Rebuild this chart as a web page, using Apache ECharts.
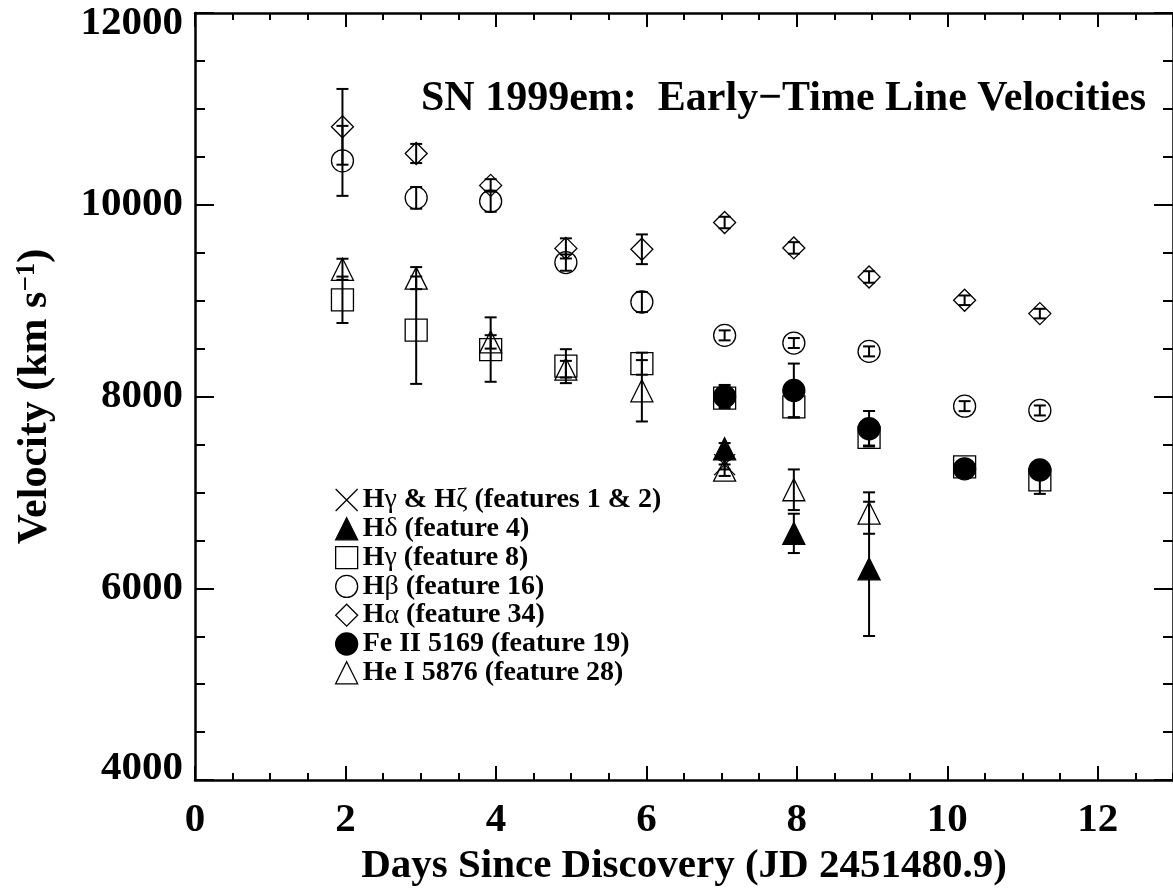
<!DOCTYPE html>
<html>
<head>
<meta charset="utf-8">
<script src="https://cdn.jsdelivr.net/npm/echarts@6/dist/echarts.min.js"></script>
<style>
  html, body { margin: 0; padding: 0; background: #fff; }
  #chart { width: 1173px; height: 892px; }
</style>
</head>
<body>
<div id="chart"></div>
<script>
// ---------------- DATA ----------------
const titleText = 'SN 1999em:  Early\u2212Time Line Velocities';
const xAxisTitle = 'Days Since Discovery (JD 2451480.9)';
const yAxisTitle = 'Velocity (km s{sup|\u22121})';

const xTickLabels = [0, 2, 4, 6, 8, 10, 12];
const yTickLabels = [4000, 6000, 8000, 10000, 12000];

const seriesNames = [
  'H\u03b3 & H\u03b6 (features 1 & 2)',
  'H\u03b4 (feature 4)',
  'H\u03b3 (feature 8)',
  'H\u03b2 (feature 16)',
  'H\u03b1 (feature 34)',
  'Fe II 5169 (feature 19)',
  'He I 5876 (feature 28)'
];

const epochs = [1.96, 2.94, 3.93, 4.93, 5.94, 7.04, 7.96, 8.96, 10.23, 11.23];

const hgzDays = [7.04];
const hgzVel  = [7290];
const hgzErr  = [50];

const hdDays = [7.04, 7.96, 8.96];
const hdVel  = [7455, 6573, 6203];
const hdErr  = [60, 205, 700];

const hg8Days = epochs;
const hg8Vel  = [9009, 8692, 8490, 8317, 8343, 7983, 7892, 7574, 7267, 7130];
const hg8Err  = [242, 560, 336, 177, 115, 80, 110, 85, 40, 145];

const hbDays = epochs;
const hbVel  = [10458, 10072, 10037, 9397, 8986, 8638, 8558, 8471, 7900, 7855];
const hbErr  = [365, 113, 110, 85, 105, 52, 52, 52, 52, 52];

const haDays = epochs;
const haVel  = [10813, 10535, 10202, 9545, 9536, 9815, 9550, 9247, 9004, 8865];
const haErr  = [395, 100, 65, 105, 155, 60, 60, 60, 50, 50];

const feDays = [7.04, 7.96, 8.96, 10.23, 11.23];
const feVel  = [8001, 8064, 7664, 7246, 7235];
const feErr  = [120, 280, 185, 40, 60];

const heDays = [1.96, 2.94, 3.93, 4.93, 5.94, 7.04, 7.96, 8.96];
const heVel  = [9327, 9235, 8570, 8285, 8060, 7232, 7028, 6785];
const heErr  = [110, 115, 70, 87, 320, 60, 212, 216];

// ---------------- BUILD ----------------
const FONT = '"Liberation Serif", "Times New Roman", Times, serif';
const X_MIN = 0, X_MAX = 13, Y_MIN = 4000, Y_MAX = 12000;

function pts(d, v) { return d.map((x, i) => [x, v[i]]); }
function errPts(d, v, e) { return d.map((x, i) => [x, v[i], e[i]]); }

const groups = [
  { name: seriesNames[0], d: hgzDays, v: hgzVel, e: hgzErr, symbol: 'path://M0,0L20,20M20,0L0,20', fill: 'rgba(0,0,0,0)', size: 21 },
  { name: seriesNames[1], d: hdDays, v: hdVel, e: hdErr, symbol: 'triangle', fill: '#000', size: 22 },
  { name: seriesNames[2], d: hg8Days, v: hg8Vel, e: hg8Err, symbol: 'rect', fill: 'rgba(0,0,0,0)', size: 22 },
  { name: seriesNames[3], d: hbDays, v: hbVel, e: hbErr, symbol: 'circle', fill: 'rgba(0,0,0,0)', size: 22 },
  { name: seriesNames[4], d: haDays, v: haVel, e: haErr, symbol: 'diamond', fill: 'rgba(0,0,0,0)', size: 22 },
  { name: seriesNames[5], d: feDays, v: feVel, e: feErr, symbol: 'circle', fill: '#000', size: 22 },
  { name: seriesNames[6], d: heDays, v: heVel, e: heErr, symbol: 'triangle', fill: 'rgba(0,0,0,0)', size: 22 }
];

const scatterSeries = groups.map(g => ({
  type: 'scatter',
  name: g.name,
  xAxisIndex: 0, yAxisIndex: 0,
  symbol: g.symbol,
  symbolSize: g.size,
  data: pts(g.d, g.v),
  itemStyle: { color: g.fill, borderColor: '#000', borderWidth: 1.3, opacity: 1 },
  emphasis: { disabled: true },
  z: 3
}));

let allErr = [];
groups.forEach(g => { allErr = allErr.concat(errPts(g.d, g.v, g.e)); });

const errSeries = {
  type: 'custom',
  name: 'errors',
  xAxisIndex: 0, yAxisIndex: 0,
  silent: true,
  z: 4,
  encode: { x: 0, y: 1 },
  data: allErr,
  renderItem: function (params, api) {
    const x = api.value(0), y = api.value(1), e = api.value(2);
    const t = api.coord([x, y + e]);
    const b = api.coord([x, y - e]);
    const hw = 6;
    const st = { stroke: '#000', lineWidth: 2 };
    return {
      type: 'group',
      children: [
        { type: 'line', shape: { x1: t[0], y1: t[1], x2: b[0], y2: b[1] }, style: st },
        { type: 'line', shape: { x1: t[0] - hw, y1: t[1], x2: t[0] + hw, y2: t[1] }, style: st },
        { type: 'line', shape: { x1: b[0] - hw, y1: b[1], x2: b[0] + hw, y2: b[1] }, style: st }
      ]
    };
  }
};

const labelStyle = { fontFamily: FONT, fontSize: 41, fontWeight: 'bold', color: '#000' };
const lineSt = { color: '#000', width: 2.5 };
const tickSt = { color: '#000', width: 2 };

function xAx(position, interval, tickLen, showLabel, showLine, extra) {
  return Object.assign({
    type: 'value', position: position, min: X_MIN, max: X_MAX, interval: interval,
    axisLine: { show: showLine, onZero: false, lineStyle: lineSt },
    axisTick: { show: true, inside: true, length: tickLen, lineStyle: tickSt },
    axisLabel: { show: showLabel },
    splitLine: { show: false }
  }, extra || {});
}
function yAx(position, interval, tickLen, showLabel, showLine, extra) {
  return Object.assign({
    type: 'value', position: position, min: Y_MIN, max: Y_MAX, interval: interval,
    axisLine: { show: showLine, onZero: false, lineStyle: lineSt },
    axisTick: { show: true, inside: true, length: tickLen, lineStyle: tickSt },
    axisLabel: { show: showLabel },
    splitLine: { show: false }
  }, extra || {});
}

const xAxes = [
  xAx('bottom', 2, 14, true, true, {
    name: xAxisTitle, nameLocation: 'middle', nameGap: 64,
    nameTextStyle: { fontFamily: FONT, fontSize: 41, fontWeight: 'bold', color: '#000' },
    axisLabel: Object.assign({ show: true, margin: 20, showMaxLabel: false,
      formatter: v => (xTickLabels.indexOf(v) >= 0 ? String(v) : '') }, labelStyle)
  }),
  xAx('bottom', 0.5, 7, false, false),
  xAx('top', 2, 14, false, true),
  xAx('top', 0.5, 7, false, false)
];

const yAxes = [
  yAx('left', 2000, 19, true, true, {
    name: yAxisTitle, nameLocation: 'middle', nameGap: 138,
    nameTextStyle: { fontFamily: FONT, fontSize: 42, fontWeight: 'bold', color: '#000',
      rich: { sup: { fontFamily: FONT, fontSize: 27, fontWeight: 'bold', color: '#000', verticalAlign: 'top', padding: [0, 0, 16, 0] } } },
    axisLabel: Object.assign({ show: true, margin: 12,
      formatter: v => {
        if (yTickLabels.indexOf(v) < 0) return '';
        if (v === Y_MAX) return '{t|' + v + '}';
        if (v === Y_MIN) return '{b|' + v + '}';
        return String(v);
      },
      rich: {
        t: { fontFamily: FONT, fontSize: 41, fontWeight: 'bold', color: '#000', padding: [20, 0, 0, 0] },
        b: { fontFamily: FONT, fontSize: 41, fontWeight: 'bold', color: '#000', padding: [0, 0, 24, 0] }
      } }, labelStyle)
  }),
  yAx('left', 500, 10, false, false),
  yAx('right', 2000, 19, false, true),
  yAx('right', 500, 10, false, false)
];

const chart = echarts.init(document.getElementById('chart'), null, { renderer: 'canvas' });
chart.setOption({
  backgroundColor: '#ffffff',
  animation: false,
  title: {
    text: titleText, left: 421, top: 78, padding: 0,
    textStyle: { fontFamily: FONT, fontSize: 42, fontWeight: 'bold', color: '#000' }
  },
  grid: { left: 195, top: 13, width: 981, height: 769, containLabel: false },
  legend: {
    data: seriesNames,
    orient: 'vertical',
    left: 330, top: 481,
    itemWidth: 22, itemHeight: 22, itemGap: 0.8,
    selectedMode: false,
    itemStyle: { borderWidth: 1.3 },
    textStyle: {
      fontFamily: FONT, fontSize: 28, fontWeight: 'bold', color: '#000', lineHeight: 22,
      rich: { g: { fontFamily: FONT, fontSize: 28, fontWeight: 'normal', color: '#000', lineHeight: 22 } }
    },
    formatter: name => name.replace(/([\u03b1-\u03c9])/g, '{g|$1}')
  },
  xAxis: xAxes,
  yAxis: yAxes,
  series: scatterSeries.concat([errSeries])
});
</script>
</body>
</html>
